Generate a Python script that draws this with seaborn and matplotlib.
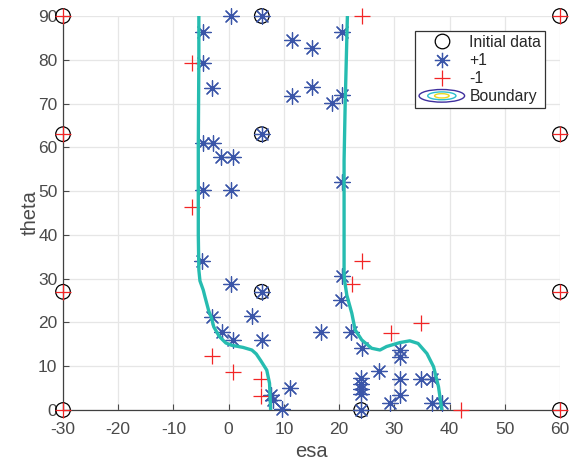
import matplotlib
matplotlib.use("Agg")
import matplotlib.pyplot as plt
from matplotlib.legend_handler import HandlerBase
from matplotlib.lines import Line2D
from matplotlib.patches import Ellipse
import seaborn as sns
import pandas as pd

# Initial design points
init_esa = [-30, -30, -30, -30, 6, 6, 6, 24, 60, 60, 60, 60]
init_theta = [0, 27, 63, 90, 27, 63, 90, 0, 0, 27, 63, 90]

# Points classified +1
pos_esa = [6, 6, 6, 24, 0.5, -4.7, -4.7, -3.1, -4.7, -2.9, -1.3, 0.7, -4.7, 0.5,
           -4.9, 0.5, -3.0, 4.3, -1.2, 0.7, 6.1, 7.6, 8.1, 9.7, 11.1,
           11.4, 15.0, 20.5, 11.4, 15.0, 18.7, 20.5, 20.5, 20.5, 20.3, 16.8, 22.1,
           24.1, 31.0, 31.0, 27.2, 24.0, 24.0, 24.0, 24.0, 31.0, 34.8, 36.8,
           31.0, 29.3, 36.8, 38.6]
pos_theta = [90, 63, 27, 0, 90, 86.4, 79.3, 73.6, 61.1, 61.1, 57.7, 57.7, 50.3, 50.3,
             34.0, 28.7, 21.3, 21.5, 17.9, 16.0, 16.0, 3.5, 2.3, 0.3, 5.1,
             84.5, 82.8, 86.4, 71.8, 73.7, 70.2, 72.0, 52.0, 30.6, 25.1, 17.9, 17.9,
             14.2, 13.7, 12.2, 9.0, 7.3, 6.0, 4.8, 3.6, 7.0, 7.0, 7.0,
             3.4, 1.5, 1.5, 1.5]

# Points classified -1
neg_esa = [-30, -30, -30, -30, 60, 60, 60, 60, 24.1, -6.7, -6.7, 24.1, 22.3,
           29.4, 34.8, -3.0, 0.7, 5.8, 5.8, 42.0]
neg_theta = [0, 27, 63, 90, 0, 27, 63, 90, 90, 79.2, 46.4, 34.0, 28.7,
             17.7, 19.8, 12.4, 8.75, 7.0, 3.1, 0]

# Decision boundary (two branches)
left_esa = [-5.4, -5.4, -5.5, -5.5, -5.4, -5.2, -4.6, -4.3, -3.6, -3.1, -2.7, -1.7,
            -0.5, 0.5, 2.6, 4.2, 5.0, 5.8, 6.9, 7.4, 7.6]
left_theta = [90, 80, 60, 40, 32, 29.5, 27.4, 25.9, 22.6, 21.0, 19.0, 16.8,
              15.3, 14.8, 14.3, 13.7, 12.8, 11.3, 9.1, 6.1, 0]
right_esa = [21.5, 21.3, 21.1, 20.9, 20.9, 20.9, 21.0, 21.4, 22.3, 22.9, 24.1, 25.9,
             27.4, 28.6, 31.0, 32.8, 34.3, 35.9, 37.1, 38.0, 38.6]
right_theta = [90, 80, 70, 57, 40, 31, 29.5, 26.2, 22.1, 18.3, 16.0, 14.1,
               13.7, 14.5, 15.4, 15.8, 15.2, 12.9, 9.9, 5.3, 0]

sns.set_theme(style="whitegrid")
plt.rcParams["font.family"] = ["Liberation Sans", "DejaVu Sans"]
plt.rcParams["axes.unicode_minus"] = False

fig = plt.figure(figsize=(5.82, 4.63), dpi=100)
ax = fig.add_axes([63 / 582, 1 - 410 / 463, 497 / 582, 394 / 463])
ax.set_facecolor("white")

blue = "#3a55a8"
red = "#f22525"
teal = "#26bcb0"

sns.scatterplot(x=init_esa, y=init_theta, ax=ax, marker="o", s=110,
                facecolor="none", edgecolor="black", linewidth=0.9,
                clip_on=False, zorder=3, legend=False)
sns.scatterplot(x=pos_esa, y=pos_theta, ax=ax, marker=(8, 2, 0), s=125,
                color=blue, linewidth=0.9, clip_on=False, zorder=4, legend=False)
sns.scatterplot(x=neg_esa, y=neg_theta, ax=ax, marker="+", s=125,
                color=red, linewidth=0.9, clip_on=False, zorder=5, legend=False)

for bx, by in [(left_esa, left_theta), (right_esa, right_theta)]:
    df = pd.DataFrame({"esa": bx, "theta": by})
    sns.lineplot(data=df, x="esa", y="theta", ax=ax, sort=False, estimator=None,
                 color=teal, linewidth=2.4, zorder=6, legend=False)

ax.set_xlim(-30, 60)
ax.set_ylim(0, 90)
ax.set_xticks(range(-30, 61, 10))
ax.set_yticks(range(0, 91, 10))
ax.grid(True, color="#e6e6e6", linewidth=0.9)
ax.set_axisbelow(True)
for side in ["top", "right"]:
    ax.spines[side].set_visible(False)
for side in ["left", "bottom"]:
    ax.spines[side].set_color("#404040")
    ax.spines[side].set_linewidth(0.9)
ax.tick_params(direction="in", length=4, width=0.8, colors="#4a4a4a",
               labelsize=12.5, left=True, bottom=True)
ax.tick_params(axis="x", pad=8.5)
ax.tick_params(axis="y", pad=4)
ax.set_xlabel("esa", fontsize=14.5, color="#4a4a4a", labelpad=4)
ax.set_ylabel("theta", fontsize=14.5, color="#4a4a4a", labelpad=-1)


class HandlerContour(HandlerBase):
    def create_artists(self, legend, orig_handle, xdescent, ydescent,
                       width, height, fontsize, trans):
        cx = 0.5 * width - xdescent
        cy = 0.5 * height - ydescent
        arts = []
        for fw, fh, c in [(1.0, 1.0, "#3e2f9e"), (0.62, 0.62, "#2ebfd0"),
                          (0.32, 0.34, "#ecd821")]:
            e = Ellipse((cx, cy), width * fw, height * 1.15 * fh, fill=False,
                        edgecolor=c, linewidth=1.0, transform=trans)
            arts.append(e)
        return arts


h_init = Line2D([], [], marker="o", linestyle="none", markersize=10.5,
                markerfacecolor="none", markeredgecolor="black", markeredgewidth=0.9)
h_pos = Line2D([], [], marker=(8, 2, 0), linestyle="none", markersize=11,
               color=blue, markeredgewidth=0.9)
h_neg = Line2D([], [], marker="+", linestyle="none", markersize=11,
               color=red, markeredgewidth=0.9)
h_bound = Ellipse((0, 0), 1, 1)

leg = ax.legend([h_init, h_pos, h_neg, h_bound],
                ["Initial data", "+1", "-1", "Boundary"],
                handler_map={Ellipse: HandlerContour()},
                loc="upper right", bbox_to_anchor=(0.970, 0.962),
                borderaxespad=0, fontsize=11.3, frameon=True, fancybox=False,
                framealpha=1, edgecolor="#333333", handlelength=2.9,
                handletextpad=0.3, labelspacing=0.2, borderpad=0.25)
for t in leg.get_texts():
    t.set_color("#262626")
leg.get_frame().set_linewidth(0.9)
leg.set_zorder(10)

fig.savefig("out.png", dpi=100)
